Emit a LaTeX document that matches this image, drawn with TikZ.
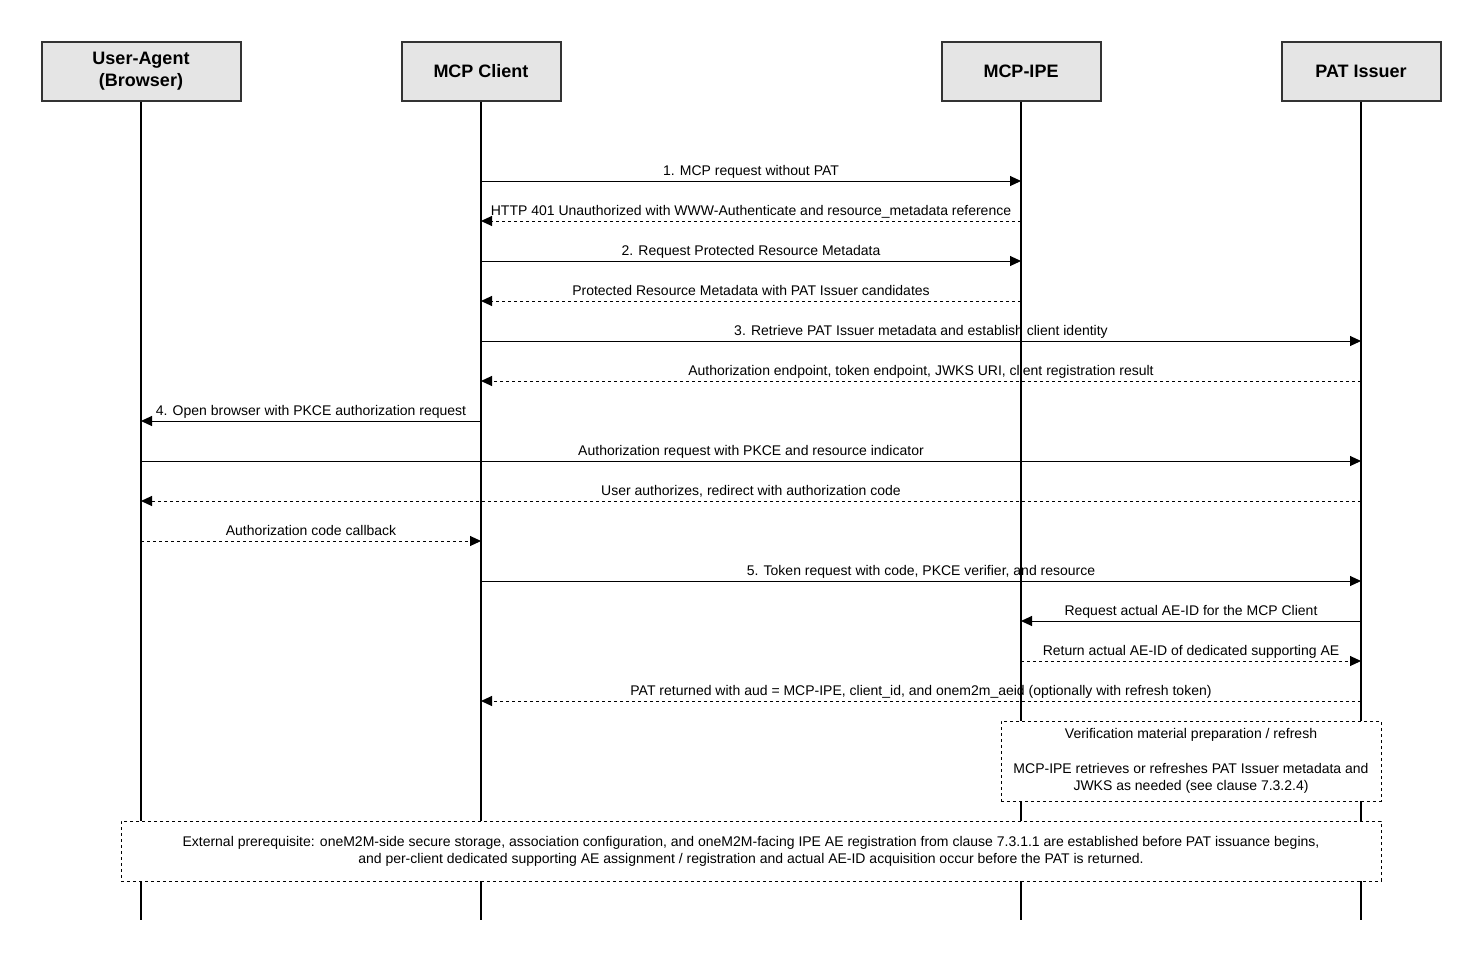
\documentclass[tikz,border=0pt]{standalone}
\usepackage{fontspec}
\setmainfont{Liberation Sans}
\usetikzlibrary{arrows.meta}
\tikzset{
  actor/.style={draw=black!80, line width=2pt, fill=black!10, minimum width=159pt, minimum height=59pt, align=center, font=\bfseries\fontsize{18}{22}\selectfont},
  life/.style={line width=1.3pt},
  msg/.style={line width=1pt, -{Triangle[length=11pt,width=10pt]}},
  reply/.style={msg, dash pattern=on 3pt off 3pt},
  lbl/.style={anchor=base, yshift=6pt, inner sep=0pt, font=\fontsize{14}{17}\selectfont},
  note/.style={draw, line width=0.8pt, dash pattern=on 3pt off 3pt, fill=white, align=center, font=\fontsize{14}{17}\selectfont}
}
\begin{document}
\begin{tikzpicture}[x=1pt,y=-1pt]
\useasboundingbox (0,0) rectangle (1483,964);
\foreach \n/\x/\w/\t in {ua/141/199/{User-Agent\\(Browser)}, mcp/481/159/{MCP Client}, ipe/1021/159/{MCP-IPE}, pat/1361/159/{PAT Issuer}} {
  \node[actor, minimum width=\w pt] (\n) at (\x,71) {\t};
  \coordinate (\n-end) at (\x,920);
  \draw[life] (\n.south) -- (\n-end);
  \foreach \r in {1,...,14}
    \coordinate (\n\r) at (\x,141+40*\r);
}
\draw[msg] (mcp1) -- node[lbl] {1. MCP request without PAT} (ipe1);
\draw[reply] (ipe2) -- node[lbl] {HTTP 401 Unauthorized with WWW-Authenticate and resource\_metadata reference} (mcp2);
\draw[msg] (mcp3) -- node[lbl] {2. Request Protected Resource Metadata} (ipe3);
\draw[reply] (ipe4) -- node[lbl] {Protected Resource Metadata with PAT Issuer candidates} (mcp4);
\draw[msg] (mcp5) -- node[lbl] {3. Retrieve PAT Issuer metadata and establish client identity} (pat5);
\draw[reply] (pat6) -- node[lbl] {Authorization endpoint, token endpoint, JWKS URI, client registration result} (mcp6);
\draw[msg] (mcp7) -- node[lbl] {4. Open browser with PKCE authorization request} (ua7);
\draw[msg] (ua8) -- node[lbl] {Authorization request with PKCE and resource indicator} (pat8);
\draw[reply] (pat9) -- node[lbl] {User authorizes, redirect with authorization code} (ua9);
\draw[reply] (ua10) -- node[lbl] {Authorization code callback} (mcp10);
\draw[msg] (mcp11) -- node[lbl] {5. Token request with code, PKCE verifier, and resource} (pat11);
\draw[msg] (pat12) -- node[lbl] {Request actual AE-ID for the MCP Client} (ipe12);
\draw[reply] (ipe13) -- node[lbl] {Return actual AE-ID of dedicated supporting AE} (pat13);
\draw[reply] (pat14) -- node[lbl] {PAT returned with aud = MCP-IPE, client\_id, and onem2m\_aeid (optionally with refresh token)} (mcp14);
% notes over the lifelines
\node[note, minimum width=380pt, minimum height=80pt] (verif) at (1191,761)
  {Verification material preparation / refresh\\[18pt]MCP-IPE retrieves or refreshes PAT Issuer metadata and\\JWKS as needed (see clause 7.3.2.4)};
\node[note, minimum width=1260pt, minimum height=60pt] (prereq) at (751,851)
  {External prerequisite: oneM2M-side secure storage, association configuration, and oneM2M-facing IPE AE registration from clause 7.3.1.1 are established before PAT issuance begins,\\and per-client dedicated supporting AE assignment / registration and actual AE-ID acquisition occur before the PAT is returned.};
\end{tikzpicture}
\end{document}
